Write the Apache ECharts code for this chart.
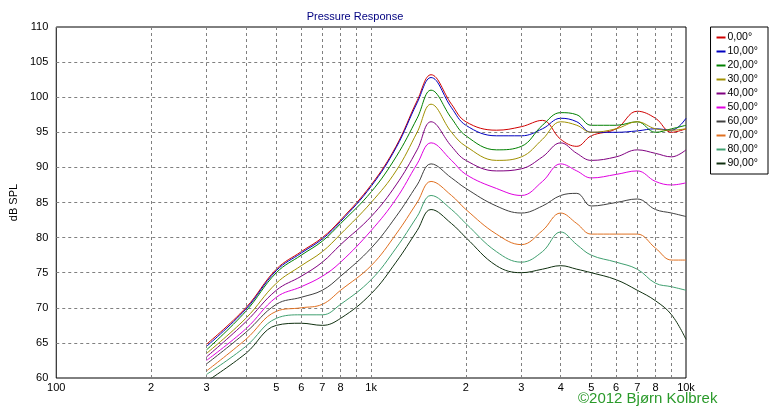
<!DOCTYPE html>
<html><head><meta charset="utf-8">
<script src="https://cdn.jsdelivr.net/npm/echarts@6/dist/echarts.min.js"></script>
<style>html,body{margin:0;padding:0;background:#fff}#c{width:771px;height:415px}</style>
</head><body><div id="c"></div>
<script>
const freqs = [300,400,500,600,700,800,1000,1200,1400,1550,1800,2000,2500,3000,3500,4000,4500,5000,6000,7000,8000,9000,10000];
const s0  = [64.8,70,75.5,78,80,82.5,87.5,93,99.5,103.2,99,96.5,95.3,95.8,96.7,94,93,94.5,95.5,98,97,95,95.5];
const s10 = [64.5,69.8,75.3,77.8,79.8,82.3,87.3,92.8,99.2,102.8,98.5,96,94.5,94.5,95.5,97,96.5,95,95,95.2,95.5,95.3,97];
const s20 = [64,69.5,75,77.5,79.5,82,86.5,91.5,97,101,97,94.5,92.5,93,96,97.8,97.5,96,96,96.5,95,95.5,96];
const s30 = [63.5,68.5,73.5,76,78,80.5,85,89.5,95,99,95,93,91,91.5,94,96.5,96,95,95.5,96.5,95.5,95.3,95.5];
const s40 = [63,68,72.5,74.5,76.5,79,83,87.5,92.5,96.5,93,91,89.5,89.8,91.5,93.5,92,91,91.5,92.5,92,91.5,92.5];
const s50 = [62.5,67,71.5,73,74.5,76.5,81,85.5,90.5,93.5,91,89,87,86,88,90.5,89.5,88.5,89,89.5,88,87.5,87.8];
const s60 = [62,66.5,70.5,71.5,72.5,74.5,78.5,83,87.5,90.5,88.5,87,84.5,83.5,84.5,86,86.3,84.5,85,85.5,84,83.5,83];
const s70 = [61,65.5,69.5,70,70.5,72.5,76,80.5,85,88,86,84,80.5,79,81,83.5,82,80.5,80.5,80.5,78.5,76.8,76.8];
const s80 = [60.5,64.5,68.5,69,69,70.5,74,78.5,83,86,84,82,78,76.5,78,80.8,79,77.5,76.5,75.5,73.5,73,72.5];
const s90 = [59.5,63.5,67.5,67.8,67.5,68.5,72,76.5,81,84,82,80,76,75,75.5,76,75.5,75,74,72.5,71,69,65.5];
const names = ['0,00°','10,00°','20,00°','30,00°','40,00°','50,00°','60,00°','70,00°','80,00°','90,00°'];
const allS = [s0,s10,s20,s30,s40,s50,s60,s70,s80,s90];
const colors = ['#d00000','#0000c0','#008000','#a09000','#800080','#e000e0','#404040','#e07020','#40a070','#103010'];
const gridF = [200,300,400,500,600,700,800,900,1000,2000,3000,4000,5000,6000,7000,8000,9000];
const tickF = [100,200,300,500,600,700,800,1000,2000,3000,4000,5000,6000,7000,8000,10000];
const tickL = ['100','2','3','5','6','7','8','1k','2','3','4','5','6','7','8','10k'];

const series = allS.map((s,i)=>({
  name:names[i], type:'line', smooth:0.4, symbol:'none', color:colors[i],
  lineStyle:{width:1}, data:freqs.map((f,j)=>[f,s[j]])
}));
series.push({type:'line', data:[], silent:true,
  markLine:{silent:true, symbol:'none', animation:false,
    lineStyle:{color:'#808080', type:[3,3], width:1},
    label:{show:false},
    data:gridF.map(f=>({xAxis:f}))}});
series.push({type:'line', data:[], silent:true,
  markLine:{silent:true, symbol:'none', animation:false,
    lineStyle:{color:'rgba(0,0,0,0)', width:0},
    label:{show:true, position:'start', color:'#000', fontSize:11, fontFamily:'Liberation Sans', distance:4},
    data:tickF.map((f,i)=>({xAxis:f, label:{show:true, position:'start', formatter:tickL[i]}}))}});

const chart = echarts.init(document.getElementById('c'));
chart.setOption({
  backgroundColor:'#fff', animation:false,
  title:{text:'Pressure Response', left:350, top:6, textAlign:'center',
    textStyle:{color:'#000080', fontSize:11, fontWeight:'normal', fontFamily:'Liberation Sans'}},
  grid:{left:55, right:85, top:27, bottom:37, show:true, borderColor:'#000', borderWidth:1},
  legend:{orient:'vertical', right:3, top:27, itemGap:3, itemWidth:9, itemHeight:2, icon:'rect',
    backgroundColor:'#fff', borderColor:'#000', borderWidth:1, padding:[5,10,5,6],
    textStyle:{fontSize:10.5, fontFamily:'Liberation Sans', color:'#000', padding:[0,0,0,-3]}, data:names},
  xAxis:{type:'log', logBase:10, min:100, max:10000,
    axisLine:{show:false}, axisTick:{show:false}, axisLabel:{show:false}, splitLine:{show:false}},
  yAxis:{type:'value', min:60, max:110, interval:5, name:'dB SPL', nameLocation:'middle', nameGap:32,
    nameTextStyle:{fontSize:11, fontFamily:'Liberation Sans', color:'#000'},
    axisLine:{show:false}, axisTick:{show:false},
    axisLabel:{fontSize:11, fontFamily:'Liberation Sans', color:'#000'},
    splitLine:{lineStyle:{color:'#808080', type:[3,3]}}},
  graphic:[{type:'text', left:578, top:391, style:{text:'©2012 Bjørn Kolbrek', fill:'#2a9a2a', fontSize:15, fontFamily:'Liberation Sans'}}],
  series:series
});
</script></body></html>
